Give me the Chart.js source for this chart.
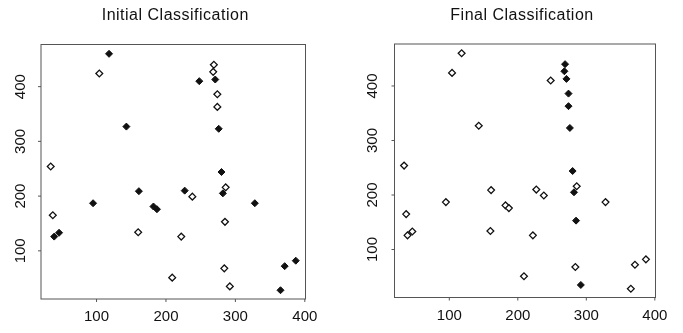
<!DOCTYPE html>
<html>
<head>
<meta charset="utf-8">
<script src="https://cdn.jsdelivr.net/npm/chart.js@4.4.1/dist/chart.umd.min.js"></script>
<style>
  html, body { margin: 0; padding: 0; background: #fff; }
  #wrap { position: relative; width: 683px; height: 333px; }
  canvas { position: absolute; top: 0; }
</style>
</head>
<body>
<div id="wrap">
  <canvas id="chartInitial" width="341" height="333" style="left:0"></canvas>
  <canvas id="chartFinal" width="342" height="333" style="left:341px"></canvas>
</div>
<script>
// point coordinates (same points in both panels)
const xVals = [118, 104, 269, 268, 271, 248, 274, 274, 143, 276, 34, 280, 286, 282, 161, 227, 238,
               95, 328, 182, 187, 37, 285, 39, 46, 160, 222, 284, 209, 292, 365, 371, 387];
const yVals = [460, 424, 440, 427, 413, 410, 386, 363, 327, 323, 254, 244, 216, 205, 209, 210, 199,
               187, 187, 181, 176, 165, 153, 126, 133, 134, 126, 68, 51, 35, 28, 72, 82];
// 1 = filled diamond, 0 = open diamond
const initialClass = [1, 0, 0, 0, 1, 1, 0, 0, 1, 1, 0, 1, 0, 1, 1, 1, 0,
                      1, 1, 1, 1, 0, 0, 1, 1, 0, 0, 0, 0, 0, 1, 1, 1];
const finalClass = [0, 0, 1, 1, 1, 0, 1, 1, 0, 1, 0, 1, 0, 1, 0, 0, 0,
                    0, 0, 0, 0, 0, 1, 0, 0, 0, 0, 0, 0, 1, 0, 0, 0];
const xTicks = [100, 200, 300, 400];
const yTicks = [100, 200, 300, 400];
const titles = ['Initial Classification', 'Final Classification'];

const FONT = "'Liberation Sans', Arial, Helvetica, sans-serif";

function pointsFor(cls, want) {
  const out = [];
  xVals.forEach((x, i) => { if (cls[i] === want) out.push({ x: x, y: yVals[i] }); });
  return out;
}

// R-style frame, ticks and labels
const rAxes = {
  id: 'rAxes',
  afterDraw(chart, args, opts) {
    const ctx = chart.ctx;
    const a = chart.chartArea;
    const xs = chart.scales.x, ys = chart.scales.y;
    ctx.save();
    ctx.strokeStyle = '#555';
    ctx.lineWidth = 1;
    ctx.strokeRect(a.left, a.top, a.right - a.left, a.bottom - a.top);

    ctx.fillStyle = '#111';
    ctx.font = '15px ' + FONT;
    ctx.textAlign = 'center';
    ctx.textBaseline = 'middle';
    xTicks.forEach(v => {
      const px = xs.getPixelForValue(v);
      ctx.beginPath();
      ctx.moveTo(px, a.bottom);
      ctx.lineTo(px, a.bottom + 3);
      ctx.stroke();
      ctx.fillText(String(v), px, a.bottom + 18);
    });
    yTicks.forEach(v => {
      const py = ys.getPixelForValue(v);
      ctx.beginPath();
      ctx.moveTo(a.left - 3, py);
      ctx.lineTo(a.left, py);
      ctx.stroke();
      ctx.save();
      ctx.translate(a.left - opts.yLabelOffset, py);
      ctx.rotate(-Math.PI / 2);
      ctx.fillText(String(v), 0, 0);
      ctx.restore();
    });

    ctx.font = '16px ' + FONT;
    ctx.letterSpacing = '0.5px';
    ctx.textBaseline = 'alphabetic';
    ctx.fillText(opts.title, (a.left + a.right) / 2 + opts.titleShift, 19.5);
    ctx.restore();
  }
};

function makePanel(id, cls, title, padding, yLabelOffset, titleShift) {
  const ctx = document.getElementById(id).getContext('2d');
  return new Chart(ctx, {
    type: 'scatter',
    data: {
      datasets: [{
        data: pointsFor(cls, 0),
        pointStyle: 'rectRot',
        pointRadius: 3.4,
        backgroundColor: '#fff',
        borderColor: '#111',
        borderWidth: 1.3
      }, {
        data: pointsFor(cls, 1),
        pointStyle: 'rectRot',
        pointRadius: 3.5,
        backgroundColor: '#111',
        borderColor: '#111',
        borderWidth: 1
      }]
    },
    options: {
      responsive: false,
      animation: false,
      layout: { padding: padding },
      scales: {
        x: { type: 'linear', min: 20, max: 401, display: false },
        y: { type: 'linear', min: 12, max: 477, display: false }
      },
      plugins: {
        legend: { display: false },
        tooltip: { enabled: false },
        rAxes: { title: title, yLabelOffset: yLabelOffset, titleShift: titleShift }
      }
    },
    plugins: [rAxes]
  });
}

makePanel('chartInitial', initialClass, titles[0],
  { left: 41, right: 35.5, top: 44.5, bottom: 34 }, 20, 2);
makePanel('chartFinal', finalClass, titles[1],
  { left: 53.5, right: 27.5, top: 44, bottom: 35.5 }, 21.5, -3);
</script>
</body>
</html>
